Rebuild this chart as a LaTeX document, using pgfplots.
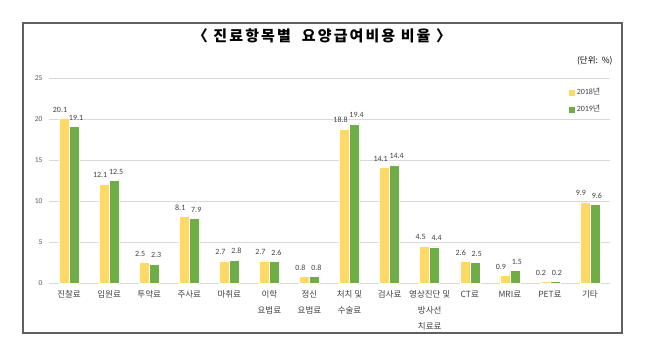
\documentclass[border=0pt]{standalone}
\usepackage{fontspec}
\setmainfont{Carlito}
\newfontfamily\kr{Noto Sans CJK KR}
\usepackage{pgfplots}
\pgfplotsset{compat=1.18}
\definecolor{yel}{HTML}{FFD966}
\definecolor{grn}{HTML}{70AD47}
\definecolor{grd}{HTML}{D9D9D9}
\definecolor{lab}{HTML}{404040}
\definecolor{tck}{HTML}{595959}
\definecolor{frm}{HTML}{606060}
\begin{document}
\begin{tikzpicture}
\useasboundingbox (0pt,0pt) rectangle (650pt,354pt);
\draw[frm, line width=1.3pt] (23pt,21pt) rectangle (622pt,331pt);
\node[font=\kr\bfseries\fontsize{15}{17}\selectfont] at (322pt,318pt) {\addfontfeatures{LetterSpace=14}〈 진료항목별\ \ 요양급여비용 비율 〉};
\node[anchor=east, font=\kr\fontsize{8.5}{10}\selectfont, text=black] at (616pt,293pt) {(단위:\ \ \%)};
\begin{axis}[at={(49pt,71pt)}, anchor=south west, scale only axis,
  width=561pt, height=205pt,
  xmin=-0.5, xmax=13.5, ymin=0, ymax=25,
  ytick={0,5,...,25},
  xtick={0,...,13},
  xticklabels={진찰료, 입원료, 투약료, 주사료, 마취료, 이학\\요법료, 정신\\요법료, 처치 및\\수술료, 검사료, 영상진단 및\\방사선\\치료료, CT료, MRI료, PET료, 기타},
  axis x line*=bottom, axis y line*=left,
  axis line style={draw=none},
  ymajorgrids, grid style={grd, line width=0.8pt},
  tick style={draw=none},
  /pgf/number format/assume math mode=true,
  yticklabel style={font=\fontsize{7.5}{9}\selectfont, text=tck, xshift=-3pt},
  xticklabel style={font=\kr\fontsize{8.5}{16}\selectfont, align=center, text=lab},
  ybar=0pt, bar width=10pt,
  nodes near coords,
  nodes near coords style={font=\fontsize{8}{9}\selectfont, text=lab, yshift=2.5pt,
    /pgf/number format/fixed, /pgf/number format/precision=1,
    /pgf/number format/fixed zerofill, /pgf/number format/assume math mode=true},
  legend style={draw=none, fill=none, at={(0.927,0.961)}, anchor=north west,
    font=\fontsize{8}{9}\selectfont, text=lab, row sep=5pt, cells={anchor=west},
    inner sep=0pt},
]
\addplot[fill=yel, draw=white, line width=0.5pt, every node near coord/.append style={xshift=-4pt},
  legend image code/.code={\fill[yel] (0pt,-2.5pt) rectangle (5pt,2.5pt);}]
  coordinates {(0,20.1) (1,12.1) (2,2.5) (3,8.1) (4,2.7) (5,2.7) (6,0.8) (7,18.8) (8,14.1) (9,4.5) (10,2.6) (11,0.9) (12,0.2) (13,9.9)};
\addplot[fill=grn, draw=white, line width=0.5pt, every node near coord/.append style={xshift=2pt},
  legend image code/.code={\fill[grn] (0pt,-2.5pt) rectangle (5pt,2.5pt);}]
  coordinates {(0,19.1) (1,12.5) (2,2.3) (3,7.9) (4,2.8) (5,2.6) (6,0.8) (7,19.4) (8,14.4) (9,4.4) (10,2.5) (11,1.5) (12,0.2) (13,9.6)};
\legend{2018{\kr 년}, 2019{\kr 년}}
\end{axis}
\end{tikzpicture}
\end{document}
